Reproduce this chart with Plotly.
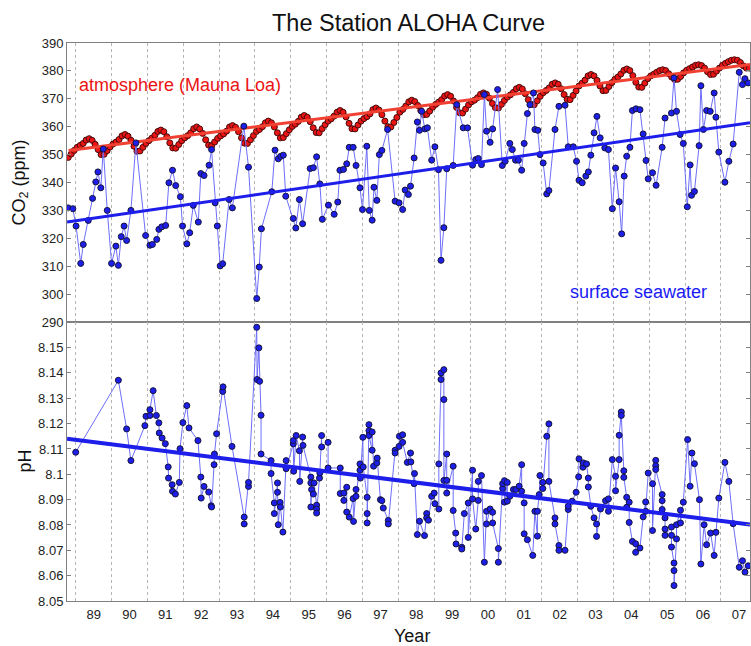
import plotly.graph_objects as go
from plotly.subplots import make_subplots

# Mauna Loa monthly CO2 (ppm), Oct 1988 .. Oct 2007
mlo_start_year = 1988
mlo_start_month = 10
mlo_co2 = [
    349.0, 350.2, 351.5,
    352.6, 353.3, 354.0, 355.2, 355.7, 355.1, 353.7, 351.8, 350.0, 350.1, 351.4, 352.7,
    353.8, 354.5, 355.4, 356.7, 357.2, 356.6, 355.1, 353.0, 351.2, 351.3, 352.6, 354.0,
    355.0, 355.9, 356.9, 358.3, 358.8, 358.2, 356.4, 354.2, 352.4, 352.3, 353.6, 355.0,
    356.0, 356.8, 357.8, 359.3, 359.9, 359.2, 357.6, 355.3, 353.4, 353.2, 354.5, 355.8,
    356.7, 357.4, 358.4, 359.9, 360.4, 359.8, 358.2, 356.0, 354.1, 354.0, 355.3, 356.8,
    358.3, 359.0, 360.0, 361.4, 362.0, 361.4, 359.9, 357.8, 356.0, 356.1, 357.5, 358.9,
    360.1, 360.9, 361.9, 363.4, 364.0, 363.4, 361.8, 359.6, 357.9, 357.8, 359.3, 360.7,
    362.0, 362.8, 363.8, 365.2, 365.8, 365.2, 363.5, 361.2, 359.3, 359.2, 360.6, 362.0,
    362.9, 363.6, 364.6, 366.1, 366.7, 366.0, 364.3, 362.0, 360.0, 359.9, 361.5, 363.3,
    365.2, 366.2, 367.4, 368.9, 369.5, 369.0, 367.6, 365.8, 364.3, 364.4, 365.6, 367.0,
    368.0, 368.8, 369.7, 371.0, 371.5, 370.9, 369.2, 366.9, 365.0, 364.9, 366.3, 367.8,
    368.9, 369.5, 370.4, 371.6, 372.1, 371.6, 370.2, 368.3, 366.8, 366.7, 368.0, 369.4,
    370.6, 371.4, 372.3, 373.6, 374.1, 373.5, 371.8, 369.7, 368.0, 367.9, 369.3, 370.9,
    372.2, 373.0, 373.9, 375.2, 375.7, 375.2, 373.6, 371.5, 369.8, 369.7, 371.2, 372.8,
    374.6, 375.6, 376.7, 378.2, 378.7, 378.2, 376.6, 374.6, 372.9, 373.0, 374.4, 375.8,
    377.0, 377.8, 378.9, 380.2, 380.7, 380.1, 378.3, 375.9, 374.2, 374.1, 375.6, 377.2,
    378.2, 378.8, 379.5, 380.1, 380.4, 380.1, 379.0, 377.8, 376.9, 377.0, 378.0, 379.3,
    380.2, 380.8, 381.4, 382.0, 382.2, 381.9, 381.0, 379.7, 378.7, 378.8, 379.9, 381.0,
    382.0, 382.7, 383.3, 383.8, 384.0, 383.8, 383.0, 381.8, 381.0, 381.0,
]

# Station ALOHA surface seawater pCO2 (ppm)
sw_year = [
    1988.79, 1988.92, 1989.01, 1989.14, 1989.21, 1989.35, 1989.47, 1989.56, 1989.62, 1989.70,
    1989.77, 1989.88, 1990.00, 1990.12, 1990.19, 1990.27, 1990.35, 1990.42, 1990.54, 1990.68,
    1990.95, 1991.07, 1991.14, 1991.26, 1991.32, 1991.40, 1991.51, 1991.60, 1991.70, 1991.79,
    1991.92, 1991.98, 1992.10, 1992.18, 1992.28, 1992.42, 1992.49, 1992.58, 1992.72, 1992.79,
    1992.89, 1992.95, 1993.03, 1993.10, 1993.28, 1993.37, 1993.69, 1993.82, 1994.05, 1994.12,
    1994.18, 1994.47, 1994.56, 1994.65, 1994.72, 1994.79, 1994.86, 1995.07, 1995.14, 1995.24,
    1995.33, 1995.54, 1995.63, 1995.72, 1995.81, 1995.88, 1996.05, 1996.21, 1996.31, 1996.37,
    1996.47, 1996.56, 1996.63, 1996.74, 1996.82, 1996.93, 1997.00, 1997.12, 1997.19, 1997.27,
    1997.32, 1997.40, 1997.47, 1997.54, 1997.70, 1997.91, 1998.02, 1998.12, 1998.19, 1998.28,
    1998.34, 1998.44, 1998.53, 1998.59, 1998.65, 1998.74, 1998.81, 1998.93, 1999.02, 1999.12,
    1999.19, 1999.27, 1999.35, 1999.53, 1999.63, 1999.81, 1999.93, 2000.07, 2000.16, 2000.23,
    2000.32, 2000.40, 2000.46, 2000.56, 2000.63, 2000.77, 2000.90, 2000.98, 2001.11, 2001.18,
    2001.27, 2001.35, 2001.44, 2001.51, 2001.60, 2001.67, 2001.77, 2001.81, 2001.89, 2001.95,
    2002.04, 2002.14, 2002.20, 2002.37, 2002.48, 2002.65, 2002.74, 2002.88, 2002.97, 2003.04,
    2003.13, 2003.23, 2003.30, 2003.37, 2003.46, 2003.54, 2003.63, 2003.76, 2003.86, 2003.97,
    2004.06, 2004.16, 2004.23, 2004.30, 2004.37, 2004.46, 2004.53, 2004.63, 2004.74, 2004.83,
    2004.91, 2004.97, 2005.09, 2005.19, 2005.36, 2005.44, 2005.62, 2005.69, 2005.76, 2005.86,
    2005.95, 2006.06, 2006.14, 2006.18, 2006.26, 2006.39, 2006.44, 2006.51, 2006.60, 2006.70,
    2006.81, 2006.86, 2006.94, 2007.11, 2007.22, 2007.34, 2007.51, 2007.60, 2007.67, 2007.76,
]
sw_co2 = [
    330.9, 330.6, 324.4, 311.0, 317.8, 326.4, 334.3, 340.2, 343.8, 338.1,
    352.0, 330.0, 311.0, 317.2, 310.3, 320.6, 324.4, 319.2, 330.0, 354.2,
    321.0, 317.5, 317.8, 319.6, 323.2, 324.1, 324.6, 339.9, 344.4, 338.9,
    334.9, 324.4, 318.0, 322.0, 331.8, 325.8, 343.2, 342.5, 346.2, 351.8,
    332.7, 324.4, 310.1, 310.9, 333.9, 330.9, 360.2, 345.5, 298.4, 309.7,
    323.4, 336.7, 351.6, 348.5, 349.4, 349.8, 335.1, 327.1, 323.7, 333.9,
    325.2, 345.0, 345.3, 349.2, 339.5, 326.8, 331.9, 328.6, 333.0, 344.4,
    344.7, 346.7, 352.6, 352.6, 346.1, 338.1, 330.3, 353.0, 330.0, 326.5,
    338.3, 333.6, 350.0, 351.5, 359.0, 333.3, 332.7, 330.3, 337.3, 335.7,
    338.7, 348.8, 361.7, 358.7, 365.5, 359.2, 359.6, 348.0, 352.8, 344.6,
    312.1, 323.8, 344.9, 346.1, 367.9, 359.6, 359.6, 346.2, 348.2, 348.6,
    346.4, 371.5, 358.4, 354.4, 359.2, 373.3, 346.1, 347.6, 354.0, 351.8,
    348.0, 348.0, 344.4, 354.0, 364.7, 367.9, 372.1, 359.0, 358.7, 350.0,
    347.0, 335.9, 337.1, 359.0, 367.3, 367.7, 352.8, 352.8, 347.6, 340.8,
    339.9, 342.3, 343.8, 349.8, 357.8, 363.7, 356.0, 352.4, 351.8, 330.6,
    345.2, 333.1, 321.6, 342.3, 349.4, 352.6, 365.8, 366.4, 366.1, 357.4,
    347.9, 341.3, 343.5, 339.0, 352.6, 363.1, 364.9, 377.5, 365.5, 357.2,
    354.0, 331.3, 346.3, 335.4, 336.8, 353.2, 374.7, 359.0, 365.8, 365.5,
    372.1, 363.4, 350.9, 340.1, 347.6, 353.8, 379.5, 375.1, 377.2, 375.7,
]

# Station ALOHA surface seawater pH
ph_year = [
    1989.00, 1990.19, 1990.42, 1990.54, 1990.93, 1990.96, 1991.07, 1991.07, 1991.16, 1991.25,
    1991.32, 1991.33, 1991.41, 1991.50, 1991.58, 1991.59, 1991.69, 1991.70, 1991.78, 1991.89,
    1991.91, 1991.99, 1992.10, 1992.16, 1992.41, 1992.49, 1992.50, 1992.58, 1992.71, 1992.78,
    1992.79, 1992.86, 1992.87, 1992.93, 1993.10, 1993.11, 1993.36, 1993.70, 1993.70, 1993.82,
    1993.82, 1994.05, 1994.06, 1994.11, 1994.13, 1994.17, 1994.17, 1994.45, 1994.45, 1994.54,
    1994.54, 1994.63, 1994.63, 1994.65, 1994.70, 1994.71, 1994.78, 1994.87, 1994.87, 1995.07,
    1995.07, 1995.08, 1995.15, 1995.24, 1995.25, 1995.33, 1995.34, 1995.56, 1995.56, 1995.56,
    1995.58, 1995.63, 1995.65, 1995.72, 1995.72, 1995.72, 1995.80, 1995.81, 1995.86, 1995.86,
    1996.04, 1996.04, 1996.38, 1996.38, 1996.48, 1996.48, 1996.56, 1996.56, 1996.63, 1996.74,
    1996.75, 1996.82, 1996.82, 1996.93, 1996.93, 1996.94, 1997.01, 1997.02, 1997.13, 1997.13,
    1997.13, 1997.18, 1997.18, 1997.18, 1997.27, 1997.27, 1997.31, 1997.40, 1997.41, 1997.50,
    1997.54, 1997.58, 1997.72, 1997.72, 1997.91, 1997.91, 1998.02, 1998.03, 1998.12, 1998.12,
    1998.25, 1998.34, 1998.35, 1998.44, 1998.45, 1998.53, 1998.59, 1998.73, 1998.79, 1998.79,
    1998.84, 1998.93, 1999.00, 1999.02, 1999.13, 1999.13, 1999.19, 1999.19, 1999.27, 1999.27,
    1999.27, 1999.35, 1999.35, 1999.35, 1999.53, 1999.53, 1999.60, 1999.61, 1999.77, 1999.77,
    1999.84, 1999.95, 1999.95, 2000.07, 2000.07, 2000.16, 2000.23, 2000.23, 2000.32, 2000.40,
    2000.46, 2000.46, 2000.56, 2000.63, 2000.63, 2000.79, 2000.79, 2000.91, 2000.91, 2000.96,
    2000.96, 2001.04, 2001.04, 2001.11, 2001.21, 2001.28, 2001.37, 2001.44, 2001.44, 2001.51,
    2001.51, 2001.60, 2001.75, 2001.81, 2001.88, 2001.88, 2001.93, 2001.95, 2002.03, 2002.03,
    2002.14, 2002.20, 2002.20, 2002.37, 2002.37, 2002.48, 2002.48, 2002.65, 2002.74, 2002.74,
    2002.85, 2002.96, 2003.03, 2003.04, 2003.15, 2003.16, 2003.25, 2003.30, 2003.30, 2003.37,
    2003.46, 2003.53, 2003.53, 2003.64, 2003.78, 2003.86, 2003.86, 2003.97, 2004.06, 2004.06,
    2004.16, 2004.16, 2004.22, 2004.22, 2004.29, 2004.29, 2004.37, 2004.37, 2004.44, 2004.44,
    2004.53, 2004.62, 2004.62, 2004.74, 2004.83, 2004.90, 2004.90, 2004.97, 2005.09, 2005.09,
    2005.18, 2005.18, 2005.18, 2005.36, 2005.36, 2005.36, 2005.44, 2005.44, 2005.44, 2005.62,
    2005.62, 2005.62, 2005.69, 2005.69, 2005.69, 2005.76, 2005.76, 2005.87, 2005.87, 2005.95,
    2006.07, 2006.14, 2006.19, 2006.26, 2006.40, 2006.44, 2006.53, 2006.60, 2006.71, 2006.81,
    2006.86, 2006.94, 2007.11, 2007.22, 2007.34, 2007.51, 2007.60, 2007.67, 2007.76,
]
ph_value = [
    8.1087, 8.1371, 8.1179, 8.1054, 8.1192, 8.1229, 8.1232, 8.1255, 8.1330, 8.1232,
    8.1203, 8.1163, 8.1143, 8.1121, 8.1029, 8.0985, 8.0959, 8.0933, 8.0922, 8.0968,
    8.1101, 8.1204, 8.1271, 8.1183, 8.1133, 8.0989, 8.0906, 8.0952, 8.0930, 8.0876,
    8.0871, 8.1038, 8.1080, 8.1160, 8.1327, 8.1345, 8.1110, 8.0831, 8.0804, 8.0952,
    8.0968, 8.1580, 8.1374, 8.1499, 8.1367, 8.1233, 8.1080, 8.1054, 8.1003, 8.0887,
    8.0845, 8.0966, 8.0929, 8.0801, 8.0889, 8.0871, 8.0772, 8.1054, 8.1022, 8.1120,
    8.1133, 8.1012, 8.1153, 8.1093, 8.0972, 8.1147, 8.1114, 8.0989, 8.0966, 8.0871,
    8.0940, 8.0922, 8.0966, 8.0878, 8.0863, 8.0847, 8.0985, 8.1005, 8.1153, 8.1108,
    8.1126, 8.1025, 8.1025, 8.0924, 8.0926, 8.0897, 8.0949, 8.0851, 8.0831, 8.0904,
    8.0814, 8.0940, 8.0913, 8.1041, 8.1016, 8.0985, 8.1146, 8.1029, 8.0909, 8.0845,
    8.0808, 8.1196, 8.1172, 8.1153, 8.1095, 8.1167, 8.1032, 8.1045, 8.1064, 8.0900,
    8.0896, 8.0867, 8.0818, 8.0804, 8.1095, 8.1084, 8.1110, 8.1150, 8.1156, 8.1126,
    8.1047, 8.1084, 8.1049, 8.0963, 8.1003, 8.0762, 8.0815, 8.0758, 8.0845, 8.0828,
    8.0819, 8.0913, 8.0926, 8.0884, 8.0863, 8.1041, 8.1374, 8.1400, 8.1413, 8.1295,
    8.0976, 8.1080, 8.0976, 8.0926, 8.1032, 8.0857, 8.0768, 8.0725, 8.0712, 8.0705,
    8.0845, 8.0887, 8.0751, 8.1016, 8.0903, 8.0784, 8.0897, 8.0972, 8.0995, 8.0653,
    8.0854, 8.0804, 8.0863, 8.0850, 8.0808, 8.0707, 8.0653, 8.0944, 8.0963, 8.0975,
    8.0890, 8.0968, 8.0894, 8.0913, 8.0940, 8.0940, 8.0953, 8.1038, 8.0933, 8.0887,
    8.0765, 8.0742, 8.0680, 8.0854, 8.0756, 8.0854, 8.0920, 8.0995, 8.0968, 8.0944,
    8.1150, 8.1199, 8.0972, 8.0828, 8.0804, 8.0719, 8.0700, 8.0700, 8.0861, 8.0874,
    8.0894, 8.0929, 8.0990, 8.1061, 8.1028, 8.1045, 8.1041, 8.0985, 8.0950, 8.0874,
    8.0828, 8.0804, 8.0755, 8.0863, 8.0896, 8.0903, 8.0854, 8.1058, 8.0992, 8.0935,
    8.1058, 8.1154, 8.1246, 8.1232, 8.1014, 8.0988, 8.0909, 8.0870, 8.0890, 8.0810,
    8.0735, 8.0726, 8.0692, 8.0709, 8.0832, 8.0891, 8.0854, 8.1005, 8.0963, 8.0778,
    8.1055, 8.1034, 8.1019, 8.0920, 8.0896, 8.0861, 8.0828, 8.0784, 8.0759, 8.0792,
    8.0759, 8.0713, 8.0650, 8.0620, 8.0561, 8.0745, 8.0801, 8.0858, 8.0808, 8.0890,
    8.1137, 8.0953, 8.1084, 8.1042, 8.0900, 8.0646, 8.0801, 8.0722, 8.0768, 8.0680,
    8.0771, 8.0906, 8.1047, 8.0972, 8.0805, 8.0633, 8.0659, 8.0614, 8.0639,
]

# linear trend end points
atm_trend_year = [1988.80, 2007.81]
atm_trend_co2 = [351.5, 382.3]
sw_trend_year = [1988.76, 2007.81]
sw_trend_co2 = [325.8, 361.4]
ph_trend_year = [1988.76, 2007.81]
ph_trend_value = [8.1140, 8.0802]

year_labels = ["89", "90", "91", "92", "93", "94", "95", "96", "97", "98",
               "99", "00", "01", "02", "03", "04", "05", "06", "07"]
first_label_year = 1989
co2_ticks = [290, 300, 310, 320, 330, 340, 350, 360, 370, 380, 390]
ph_ticks = [8.05, 8.06, 8.07, 8.08, 8.09, 8.10, 8.11, 8.12, 8.13, 8.14, 8.15]
ph_tick_text = ["8.05", "8.06", "8.07", "8.08", "8.09", "8.1",
                "8.11", "8.12", "8.13", "8.14", "8.15"]

FONT = "Liberation Sans, Arial, Helvetica, sans-serif"
BLUE = "rgb(30,30,235)"
PALE_BLUE = "rgb(110,110,250)"
RED = "rgb(235,20,20)"

mlo_year = [mlo_start_year + (mlo_start_month - 1 + i + 0.5) / 12 for i in range(len(mlo_co2))]

fig = make_subplots(rows=2, cols=1, shared_xaxes=True, vertical_spacing=0)

dot_blue = dict(size=6, color=BLUE, line=dict(color="rgb(20,20,60)", width=1))
dot_red = dict(size=6, color=RED, line=dict(color="rgb(70,10,10)", width=1))

fig.add_trace(go.Scatter(x=mlo_year, y=mlo_co2, mode="markers", marker=dot_red,
                         showlegend=False), row=1, col=1)
fig.add_trace(go.Scatter(x=atm_trend_year, y=atm_trend_co2, mode="lines",
                         line=dict(color="rgb(240,65,50)", width=3), showlegend=False),
              row=1, col=1)
fig.add_trace(go.Scatter(x=sw_year, y=sw_co2, mode="lines+markers",
                         line=dict(color=PALE_BLUE, width=1), marker=dot_blue,
                         showlegend=False), row=1, col=1)
fig.add_trace(go.Scatter(x=sw_trend_year, y=sw_trend_co2, mode="lines",
                         line=dict(color=BLUE, width=3), showlegend=False), row=1, col=1)

fig.add_trace(go.Scatter(x=ph_year, y=ph_value, mode="lines+markers",
                         line=dict(color=PALE_BLUE, width=1), marker=dot_blue,
                         showlegend=False), row=2, col=1)
fig.add_trace(go.Scatter(x=ph_trend_year, y=ph_trend_value, mode="lines",
                         line=dict(color=BLUE, width=4), showlegend=False), row=2, col=1)

label_pos = [first_label_year + i + 0.5 for i in range(len(year_labels))]
grid_pos = [first_label_year + i for i in range(len(year_labels))]

tick_font = dict(family=FONT, size=13, color="#222")
x_common = dict(
    range=[1988.757, 2007.81],
    tickvals=label_pos, ticktext=year_labels, ticks="", showgrid=False,
    minor=dict(tickvals=grid_pos, showgrid=True, gridcolor="#b5b5b5",
               griddash="dot", gridwidth=1, ticks=""),
    showline=True, linecolor="#808080", linewidth=1, mirror=True,
    tickfont=tick_font, zeroline=False,
)
fig.update_xaxes(**x_common)
fig.update_xaxes(showticklabels=False, row=1, col=1)
fig.update_xaxes(ticklabelstandoff=1, row=2, col=1)

y_common = dict(
    showgrid=False, zeroline=False, showline=True, linecolor="#808080", linewidth=1,
    mirror="allticks", ticks="inside", ticklen=4, tickcolor="#808080",
    tickfont=tick_font,
)
fig.update_yaxes(range=[290, 390], tickvals=co2_ticks, row=1, col=1, **y_common)
fig.update_yaxes(range=[8.05, 8.1601], tickvals=ph_ticks, ticktext=ph_tick_text,
                 row=2, col=1, **y_common)

fig.add_annotation(x=1989.04, y=375.1, xref="x", yref="y", text="atmosphere (Mauna Loa)",
                   showarrow=False, xanchor="left", yanchor="middle",
                   font=dict(family=FONT, size=18, color=RED))
fig.add_annotation(x=2002.73, y=300.6, xref="x", yref="y", text="surface seawater",
                   showarrow=False, xanchor="left", yanchor="middle",
                   font=dict(family=FONT, size=18, color="rgb(25,25,245)"))

axis_font = dict(family=FONT, size=18, color="#111")
fig.add_annotation(x=0, y=0.75, xref="paper", yref="paper", xshift=-47,
                   text="CO<sub>2</sub> (ppm)", textangle=-90, showarrow=False,
                   xanchor="center", yanchor="middle", font=axis_font)
fig.add_annotation(x=0, y=0.25, xref="paper", yref="paper", xshift=-43,
                   text="pH", textangle=-90, showarrow=False,
                   xanchor="center", yanchor="middle", font=axis_font)
fig.add_annotation(x=0.505, y=0, xref="paper", yref="paper", yshift=-35,
                   text="Year", showarrow=False, xanchor="center", yanchor="middle",
                   font=axis_font)

fig.update_layout(
    width=751, height=646,
    margin=dict(l=67, r=1, t=43, b=45),
    paper_bgcolor="white", plot_bgcolor="white",
    title=dict(text="The Station ALOHA Curve", x=0.5, xref="paper", xanchor="center",
               y=1 - 23 / 646, yref="container", yanchor="middle",
               font=dict(family=FONT, size=23.5, color="#111")),
    showlegend=False,
)

# drop the default page margin so the figure sits at the window's top-left corner
fig.write_html("out.html",
               config={"displayModeBar": False},
               post_script="document.body.style.margin='0';"
                           "document.body.style.overflow='hidden';")
